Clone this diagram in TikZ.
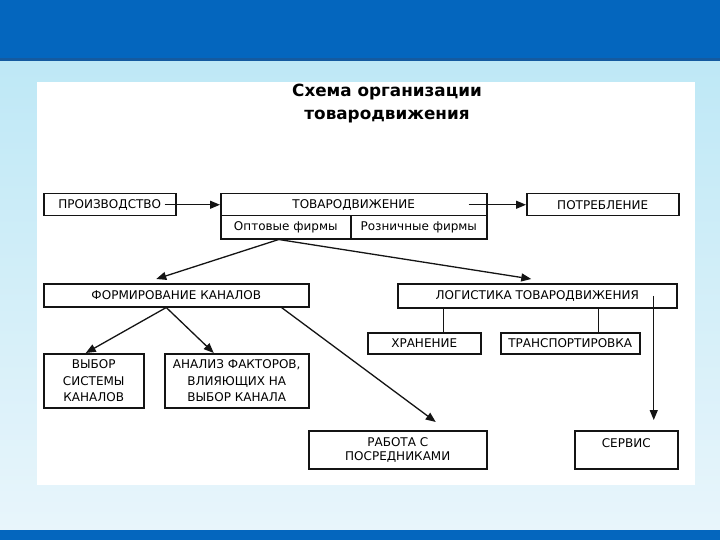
\documentclass[tikz,border=0pt]{standalone}
\usepackage{fontspec}
\setmainfont{DejaVu Sans}
\usetikzlibrary{arrows.meta}
\definecolor{topblue}{RGB}{4,102,190}
\definecolor{lineblue}{RGB}{20,90,160}
\definecolor{skyblue}{RGB}{190,232,246}
\definecolor{skylow}{RGB}{232,245,251}
\definecolor{boxline}{RGB}{20,20,20}
\begin{document}
\begin{tikzpicture}[x=1pt,y=-1pt,
  box/.style={draw=boxline, line width=1.5pt, fill=white, inner sep=0pt,
    anchor=north west, align=center, font=\fontsize{12}{14}\selectfont},
  arr/.style={draw=boxline, line width=1.3pt, -{Triangle[length=10pt,width=8pt]}},
  ln/.style={draw=boxline, line width=1.3pt}]
\useasboundingbox (0,0) rectangle (720,540);
% background
\shade[top color=skyblue, bottom color=skylow] (0,58) rectangle (720,530);
\fill[topblue] (0,0) rectangle (720,58);
\fill[lineblue] (0,58) rectangle (720,61);
\fill[topblue] (0,530) rectangle (720,540);
\fill[white] (37,82) rectangle (695,485);
% title
\node[align=center, font=\bfseries\fontsize{16.8}{23}\selectfont] (title) at (387,104)
  {Схема организации\\товародвижения};
% boxes
\node[box, minimum width=132pt, minimum height=22pt] (prod) at (43,193) {ПРОИЗВОДСТВО};
\node[box, minimum width=266pt, minimum height=22pt] (tovtop) at (220,193) {ТОВАРОДВИЖЕНИЕ};
\node[box, minimum width=130pt, minimum height=23pt] (opt) at (220,215) {Оптовые фирмы};
\node[box, minimum width=136pt, minimum height=23pt] (rozn) at (350,215) {Розничные фирмы};
\node[box, minimum width=152pt, minimum height=22pt] (potr) at (526,193) {ПОТРЕБЛЕНИЕ};
\node[box, minimum width=265pt, minimum height=23pt] (form) at (43,283) {ФОРМИРОВАНИЕ КАНАЛОВ};
\node[box, minimum width=279pt, minimum height=24pt] (log) at (397,283) {ЛОГИСТИКА ТОВАРОДВИЖЕНИЯ};
\node[box, minimum width=113pt, minimum height=21pt] (xran) at (367,332) {ХРАНЕНИЕ};
\node[box, minimum width=139pt, minimum height=21pt] (trans) at (500,332) {ТРАНСПОРТИРОВКА};
\node[box, minimum width=100pt, minimum height=54pt, font=\fontsize{12}{16.5}\selectfont] (vyb) at (43,353) {ВЫБОР\\СИСТЕМЫ\\КАНАЛОВ};
\node[box, minimum width=144pt, minimum height=54pt, font=\fontsize{12}{16.5}\selectfont] (anal) at (164,353) {АНАЛИЗ ФАКТОРОВ,\\ВЛИЯЮЩИХ НА\\ВЫБОР КАНАЛА};
\node[box, minimum width=178pt, minimum height=38pt] (rab) at (308,430) {РАБОТА С\\ПОСРЕДНИКАМИ};
\node[box, minimum width=103pt, minimum height=38pt] (serv) at (574,430) {СЕРВИС\\\mbox{}};
% connectors
\draw[arr] ([xshift=-12pt]prod.east) -- (tovtop.west);
\draw[arr] ([xshift=-19pt]tovtop.east) -- (potr.west);
\draw[arr] ([xshift=-7pt]opt.south) -- ([xshift=-20pt,yshift=4pt]form.north);
\draw[arr] ([xshift=-7pt]opt.south) -- ([xshift=-6pt,yshift=4pt]log.north);
\draw[arr] ([xshift=-10pt]form.south) -- ([xshift=-8pt]vyb.north);
\draw[arr] ([xshift=-10pt]form.south) -- ([xshift=-23pt]anal.north);
\draw[arr] ([xshift=-28pt]form.south east) -- ([xshift=38pt,yshift=8pt]rab.north);
\draw[ln] ([xshift=19.5pt]xran.north) -- ([xshift=19.5pt]xran.north |- log.south);
\draw[ln] ([xshift=28.5pt]trans.north) -- ([xshift=28.5pt]trans.north |- log.south);
\draw[arr] ([xshift=27.5pt]serv.north |- log.center) -- ([xshift=27.5pt,yshift=10pt]serv.north);
\end{tikzpicture}
\end{document}
